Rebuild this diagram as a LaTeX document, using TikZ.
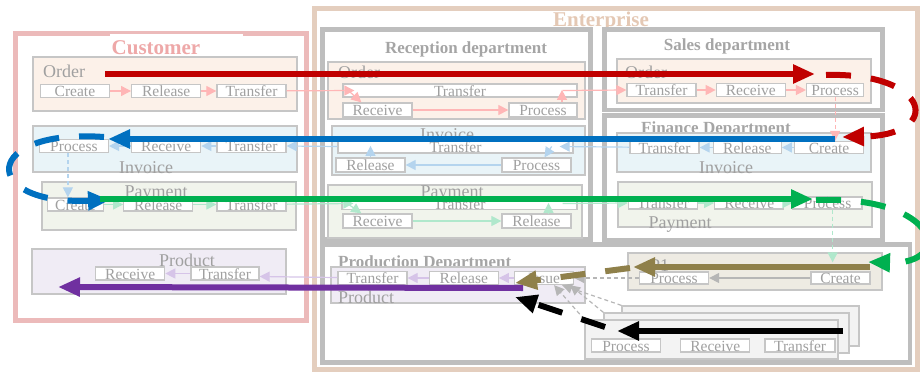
\documentclass[tikz,border=0pt]{standalone}
\usepackage{fontspec}
\setmainfont{Liberation Serif}
\usetikzlibrary{positioning,arrows.meta,calc}

\definecolor{redline}{RGB}{192,0,0}
\definecolor{blueline}{RGB}{0,112,192}
\definecolor{greenline}{RGB}{0,176,80}
\definecolor{purpleline}{RGB}{112,48,160}
\definecolor{oliveline}{RGB}{143,128,74}
\definecolor{custpink}{RGB}{236,186,186}
\definecolor{custtext}{RGB}{238,168,168}
\definecolor{entertan}{RGB}{228,206,190}
\definecolor{entertext}{RGB}{228,200,180}
\definecolor{deptgray}{RGB}{190,190,190}
\definecolor{boxgray}{RGB}{198,198,198}
\definecolor{txtgray}{RGB}{160,160,160}
\definecolor{titlegray}{RGB}{165,165,165}
\definecolor{ordfill}{RGB}{252,241,233}
\definecolor{invfill}{RGB}{233,244,248}
\definecolor{payfill}{RGB}{241,244,236}
\definecolor{prodfill}{RGB}{240,236,245}
\definecolor{pfill}{RGB}{238,235,227}
\definecolor{stackfill}{RGB}{243,243,243}
\definecolor{pinkarr}{RGB}{255,182,182}
\definecolor{bluearr}{RGB}{180,212,238}
\definecolor{greenarr}{RGB}{176,232,204}
\definecolor{lavarr}{RGB}{214,196,232}
\definecolor{grayarr}{RGB}{182,182,182}

\tikzstyle{stepbox} = [draw=boxgray, fill=white, line width=1.3pt, minimum width=69pt, minimum height=13pt, inner sep=0pt, text=txtgray, font=\fontsize{15.5}{16}\selectfont, text height=11pt, text depth=0pt]
\tikzstyle{widebox} = [stepbox, minimum width=235pt]
\tikzstyle{flowbox} = [draw=boxgray, line width=1.3pt, inner sep=0pt]
\tikzstyle{flowlabel} = [text=txtgray, font=\fontsize{18}{18}\selectfont, inner sep=0pt, text depth=0pt]
\tikzstyle{deptbox} = [draw=deptgray, line width=4.5pt, inner sep=0pt]
\tikzstyle{depttitle} = [text=titlegray, font=\bfseries\fontsize{17}{17}\selectfont, inner sep=0pt]
\tikzstyle{lightarrow} = [-{Triangle[length=10pt,width=10pt]}, line width=1.2pt]
\tikzstyle{lightdash} = [lightarrow, dash pattern=on 4pt off 3pt]
\tikzstyle{bigarrow} = [-{Triangle[length=22pt,width=18pt]}, line width=6pt]
\tikzstyle{bigdash} = [bigarrow, dash pattern=on 25pt off 20pt]

\begin{document}
\begin{tikzpicture}[x=1pt, y=-1pt, node distance=15pt]
    \useasboundingbox (0,0) rectangle (920,372);

        % Define outer boxes
        \node[draw=entertan, line width=5pt, minimum width=603pt, minimum height=361.5pt, inner sep=0pt] (ent) at (616,188.75) {};
        \node[draw=custpink, line width=5pt, minimum width=291pt, minimum height=287pt, inner sep=0pt] (cust) at (161,176.5) {};
        \fill[white] (110,33.5) rectangle (243,56);
        \node[anchor=base, text=custtext, font=\bfseries\fontsize{21}{21}\selectfont, inner sep=0pt] (custtitle) at (156,54) {Customer};
        \node[anchor=base, text=entertext, font=\bfseries\fontsize{21}{21}\selectfont, inner sep=0pt] (enttitle) at (601,27) {Enterprise};

        % Define departments
        \node[deptbox, minimum width=268pt, minimum height=210pt] (recep) at (456.5,134.5) {};
        \node[deptbox, minimum width=278pt, minimum height=80.5pt] (sales) at (743.5,69.75) {};
        \node[deptbox, minimum width=278pt, minimum height=124.5pt] (fin) at (743.5,177.75) {};
        \node[deptbox, minimum width=587.5pt, minimum height=118pt] (prod) at (616.25,303.5) {};
        \node[depttitle, anchor=base] (receptitle) at (466,53) {Reception department};
        \node[depttitle, anchor=base] (salestitle) at (727,50) {Sales department};
        \node[depttitle, anchor=base] (fintitle) at (716,133) {Finance Department};
        \node[depttitle, anchor=base west] (prodtitle) at (338,267) {Production Department};

        % Customer flows
        \node[flowbox, fill=ordfill, minimum width=264pt, minimum height=54pt] (cOrd) at (165,84) {};
        \node[flowlabel, anchor=base west] (cOrdlab) at (43,77) {Order};
        \node[stepbox] (cOTr) at (251.5,91) {Transfer};
        \node[stepbox] (cORe) [left=of cOTr] {Release};
        \node[stepbox] (cOCr) [left=21pt of cORe] {Create};

        \node[flowbox, fill=invfill, minimum width=264pt, minimum height=46pt] (cInv) at (165,149) {};
        \node[flowlabel, anchor=base] (cInvlab) at (146,173) {Invoice};
        \node[stepbox] (cITr) at (251.5,146) {Transfer};
        \node[stepbox] (cIRe) [left=of cITr] {Receive};
        \node[stepbox] (cIPr) [left=22pt of cIRe] {Process};

        \node[flowbox, fill=payfill, minimum width=254pt, minimum height=48pt] (cPay) at (169,206) {};
        \node[flowlabel, anchor=base] (cPaylab) at (156,197) {Payment};
        \node[stepbox] (cPTr) at (251.5,204.5) {Transfer};
        \node[stepbox] (cPRe) [left=23pt of cPTr] {Release};
        \node[stepbox, minimum width=56pt] (cPCr) [left=19pt of cPRe] {Create};

        \node[flowbox, fill=prodfill, minimum width=254pt, minimum height=45pt] (cPrd) at (159,271.5) {};
        \node[flowlabel, anchor=base] (cPrdlab) at (187,266) {Product};
        \node[stepbox, minimum width=68pt] (cDTr) at (225,273.5) {Transfer};
        \node[stepbox] (cDRe) [left=25pt of cDTr] {Receive};

        % Reception flows
        \node[flowbox, fill=ordfill, minimum width=257pt, minimum height=57pt] (rOrd) at (456.5,90.5) {};
        \node[flowlabel, anchor=base west] (rOrdlab) at (338,78) {Order};
        \node[widebox, minimum width=234pt] (rOTr) at (460,90.5) {Transfer};
        \node[stepbox, minimum height=14pt] (rORe) at (377.5,110) {Receive};
        \node[stepbox, minimum height=14pt, minimum width=68pt] (rOPr) at (543,110) {Process};

        \node[flowbox, fill=invfill, minimum width=253pt, minimum height=49pt] (rInv) at (458.5,150.5) {};
        \node[flowlabel, anchor=base] (rInvlab) at (447,140) {Invoice};
        \node[widebox] (rITr) at (455.5,146.5) {Transfer};
        \node[stepbox, minimum height=14pt] (rIRl) at (370.5,165) {Release};
        \node[stepbox, minimum height=14pt] (rIPr) at (536.5,165) {Process};

        \node[flowbox, fill=payfill, minimum width=254pt, minimum height=53pt] (rPay) at (455,211.5) {};
        \node[flowlabel, anchor=base] (rPaylab) at (452,197.5) {Payment};
        \node[widebox, minimum height=12pt] (rPTr) at (459.5,203.5) {Transfer};
        \node[stepbox, minimum height=14pt] (rPRe) at (377.5,221) {Receive};
        \node[stepbox, minimum height=14pt] (rPRl) at (536.5,221) {Release};

        % Sales and finance flows
        \node[flowbox, fill=ordfill, minimum width=254pt, minimum height=44pt] (sOrd) at (744,81) {};
        \node[flowlabel, anchor=base west] (sOrdlab) at (625,78) {Order};
        \node[stepbox] (sOTr) at (661.5,90) {Transfer};
        \node[stepbox] (sORe) [right=19pt of sOTr] {Receive};
        \node[stepbox, minimum width=57pt] (sOPr) [right=20pt of sORe] {Process};

        \node[flowbox, fill=invfill, minimum width=254pt, minimum height=39pt] (fInv) at (744,152.5) {};
        \node[flowlabel, anchor=base] (fInvlab) at (726,173) {Invoice};
        \node[stepbox, minimum height=12pt] (fITr) at (664.5,147.5) {Transfer};
        \node[stepbox, minimum height=12pt, minimum width=68pt] (fIRl) [right=13pt of fITr] {Release};
        \node[stepbox, minimum height=12pt] (fICr) [right=12pt of fIRl] {Create};

        \node[flowbox, fill=payfill, minimum width=254pt, minimum height=45pt] (fPay) at (745,204.5) {};
        \node[flowlabel, anchor=base] (fPaylab) at (680,228) {Payment};
        \node[stepbox, minimum height=12pt] (fPTr) at (663,203) {Transfer};
        \node[stepbox, minimum height=12pt] (fPRe) [right=16pt of fPTr] {Receive};
        \node[stepbox, minimum height=12pt] (fPPr) [right=8pt of fPRe] {Process};

        % Production flows
        \node[flowbox, fill=prodfill, minimum width=254pt, minimum height=36pt] (pPrd) at (458,285) {};
        \node[flowlabel, anchor=base west] (pPrdlab) at (338,303) {Product};
        \node[stepbox] (pPTr) at (372.5,278) {Transfer};
        \node[stepbox] (pPRl) [right=21pt of pPTr] {Release};
        \node[stepbox, minimum width=59pt] (pPIs) [right=of pPRl] {Issue};

        \node[flowbox, fill=pfill, minimum width=254pt, minimum height=37pt] (pOne) at (755,271.5) {};
        \node[flowlabel, anchor=base west] (pOnelab) at (650,271.5) {P1};
        \node[stepbox, minimum height=12pt] (p1Pr) at (674,278) {Process};
        \node[stepbox, minimum height=12pt, minimum width=59pt] (p1Cr) at (840.5,278) {Create};

        \node[flowbox, fill=stackfill, minimum width=237pt, minimum height=40pt] (sBack) at (740.5,326) {};
        \node[flowbox, fill=stackfill, minimum width=245pt, minimum height=40pt] (sMid) at (726.5,333) {};
        \node[flowbox, fill=stackfill, minimum width=253pt, minimum height=39pt] (sFront) at (711.5,339.5) {};
        \node[stepbox] (sPr) at (626,345.5) {Process};
        \node[stepbox] (sRe) [right=19pt of sPr] {Receive};
        \node[stepbox, minimum width=70pt] (sTr) [right=14pt of sRe] {Transfer};

        % Order steps
        \foreach \X/\Y in {cOCr/cORe, cORe/cOTr, rORe/rOPr, sOTr/sORe, sORe/sOPr} {
            \draw[lightarrow, pinkarr] (\X) -- (\Y);
        }
        \draw[lightarrow, pinkarr] (cOTr) -- ([xshift=12pt]rOTr.west);
        \draw[lightarrow, pinkarr] ([xshift=6pt]rOTr.west) -- ([xshift=19pt]rORe.north west);
        \draw[lightarrow, pinkarr] ([xshift=19pt]rOPr.north) -- ++(0,-12.5);
        \draw[lightarrow, pinkarr] ([xshift=-15pt]rOTr.east) -- (sOTr.west);
        \draw[lightdash, pinkarr] (sOPr.south) -- (sOPr.south |- fICr.north);

        % Invoice steps
        \foreach \X/\Y in {fICr/fIRl, fIRl/fITr, rIPr/rIRl, cITr/cIRe, cIRe/cIPr} {
            \draw[lightarrow, bluearr] (\X) -- (\Y);
        }
        \draw[lightarrow, bluearr] (fITr) -- ([xshift=-14pt]rITr.east);
        \draw[lightarrow, bluearr] ([xshift=-22pt]rITr.east) -- ([xshift=8pt]rIPr.north);
        \draw[lightarrow, bluearr] (rIRl.north) -- ++(0,-11.5);
        \draw[lightarrow, bluearr] (rITr.west) -- (cITr.east);
        \draw[lightdash, bluearr] ([xshift=-6pt]cIPr.south) -- ([xshift=-7.5pt]cPCr.north);

        % Payment steps
        \foreach \X/\Y in {cPCr/cPRe, cPRe/cPTr, rPRe/rPRl, fPTr/fPRe, fPRe/fPPr} {
            \draw[lightarrow, greenarr] (\X) -- (\Y);
        }
        \draw[lightarrow, greenarr] (cPTr) -- ([xshift=12pt]rPTr.west);
        \draw[lightarrow, greenarr] ([xshift=6pt]rPTr.west) -- ([xshift=19pt]rPRe.north west);
        \draw[lightarrow, greenarr] ([xshift=12pt]rPRl.north) -- ++(0,-10.5);
        \draw[lightarrow, greenarr] ([xshift=-15pt]rPTr.east) -- (fPTr.west);
        \draw[lightdash, greenarr] ([xshift=5pt]fPPr.south) -- ($(fPPr.south |- pOne.north)+(5,10)$);

        % Product steps
        \foreach \X/\Y in {pPIs/pPRl, pPRl/pPTr, cDTr/cDRe} {
            \draw[lightarrow, lavarr] (\X) -- (\Y);
        }
        \draw[lightarrow, lavarr] (pPTr) -- ([yshift=-3pt]cDTr.east);
        \draw[lightarrow, grayarr] (p1Cr) -- (p1Pr);
        \draw[lightdash, grayarr] (p1Pr) -- (pPIs);
        \draw[lightdash, grayarr] (sBack.north west) -- ([xshift=18pt]pPIs.south);
        \draw[lightdash, grayarr] (sMid.north west) -- ([xshift=26pt]pPIs.south);
        \draw[lightdash, grayarr] (sFront.north west) -- ([xshift=10pt]pPIs.south);

        % Thick flow arrows
        \coordinate (redA) at (105,74);
        \coordinate (redB) at (815,74);
        \coordinate (redC) at (826,75);
        \coordinate (redD) at (842,137);
        \coordinate (bluA) at (835,139);
        \coordinate (bluB) at (108,139);
        \coordinate (bluC) at (104,137);
        \coordinate (bluD) at (110,200);
        \coordinate (grnA) at (100,199);
        \coordinate (grnB) at (813,199);
        \coordinate (grnC) at (816,200);
        \coordinate (grnD) at (868,262);
        \coordinate (olvA) at (870,267);
        \coordinate (olvB) at (633,267);
        \coordinate (olvC) at (630,268);
        \coordinate (olvD) at (515,283);
        \coordinate (purA) at (523,288);
        \coordinate (purB) at (58,287);
        \coordinate (blkA) at (843,331);
        \coordinate (blkB) at (617,331);
        \coordinate (blkC) at (605,327);
        \coordinate (blkD) at (515,297);

        \draw[bigarrow, redline] (redA) -- (redB);
        \draw[bigdash, redline] (redC) .. controls (930,72) and (945,135) .. (redD);
        \draw[bigarrow, blueline] (bluA) -- (bluB);
        \draw[bigdash, blueline] (bluC) .. controls (-18,128) and (-22,205) .. (bluD);
        \draw[bigarrow, greenline] (grnA) -- (grnB);
        \draw[bigdash, greenline] (grnC) .. controls (940,195) and (955,265) .. (grnD);
        \draw[bigarrow, oliveline] (olvA) -- (olvB);
        \draw[bigdash, oliveline] (olvC) -- (olvD);
        \draw[bigarrow, purpleline] (purA) -- (purB);
        \draw[bigarrow, black] (blkA) -- (blkB);
        \draw[bigdash, black] (blkC) -- (blkD);

\end{tikzpicture}
\end{document}
